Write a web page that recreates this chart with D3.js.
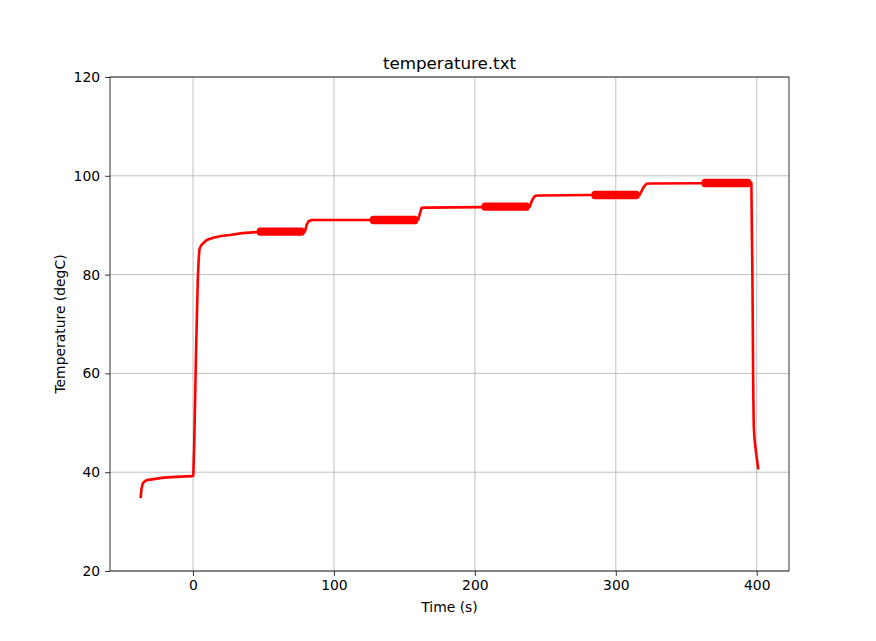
<!DOCTYPE html>
<html>
<head>
<meta charset="utf-8">
<script src="https://cdn.jsdelivr.net/npm/d3@7"></script>
<style>
  html, body { margin: 0; padding: 0; background: #fff; }
  svg { display: block; font-family: "DejaVu Sans", sans-serif; }
</style>
</head>
<body>
<svg id="chart" width="876" height="641"></svg>
<script>
// ---- data ----
const timeS = [-37.1, -36.6, -35.7, -34.5, -32.8, -28, -21, -12, -1, 0.2, 0.8, 1.5, 2.2, 2.8, 3.4, 4.0, 4.6, 6, 9.7, 15, 20, 26.2, 35, 45.2,
  79.4, 80.6, 82, 84.2, 100, 125.5, 159.8, 161, 162.2, 165, 204.7, 239, 240.5, 242.5, 245, 282.7, 317, 319.5, 321.8, 325, 360.8, 396.2,
  396.5, 396.9, 397.2, 397.4, 397.6, 397.9, 398.5, 399.3, 400.2, 401];
const tempC = [35.0, 36.5, 37.7, 38.1, 38.4, 38.6, 38.9, 39.05, 39.2, 39.3, 45, 55, 65, 72, 79, 83, 85.2, 86, 87.0, 87.5, 87.8, 88.0, 88.4, 88.6,
  88.7, 90.0, 90.8, 91.05, 91.05, 91.05, 91.1, 92.4, 93.5, 93.55, 93.65, 93.75, 95.0, 95.9, 96.0, 96.1, 96.15, 97.6, 98.4, 98.45, 98.5, 98.6,
  90, 80.9, 70, 60.7, 55, 49.2, 46.5, 44.5, 42.5, 40.8];
// oscillating plateaus (start s, end s, centre degC)
const bandStart = [45.2, 125.5, 204.7, 282.7, 360.8];
const bandEnd   = [79.4, 159.8, 239.0, 317.0, 396.2];
const bandTemp  = [88.7, 91.05, 93.75, 96.1, 98.55];

const xTicks = [0, 100, 200, 300, 400];
const yTicks = [20, 40, 60, 80, 100, 120];
const titleText = "temperature.txt";
const xLabel = "Time (s)";
const yLabel = "Temperature (degC)";

// ---- layout ----
const W = 876, H = 641;
const mLeft = 110, mRight = 789, mTop = 77, mBottom = 571;
const svg = d3.select("#chart");

const x = d3.scaleLinear().domain([-58.9, 422.9]).range([mLeft, mRight]);
const y = d3.scaleLinear().domain([20, 120]).range([mBottom, mTop]);

// grid
const grid = svg.append("g");
grid.selectAll("line.gx").data(xTicks).join("line")
  .attr("x1", d => x(d)).attr("x2", d => x(d)).attr("y1", mTop).attr("y2", mBottom)
  .attr("stroke", "#b0b0b0").attr("stroke-width", 0.8);
grid.selectAll("line.gy").data(yTicks).join("line")
  .attr("x1", mLeft).attr("x2", mRight).attr("y1", d => y(d)).attr("y2", d => y(d))
  .attr("stroke", "#b0b0b0").attr("stroke-width", 0.8);

// data line
const pts = timeS.map((t, i) => [t, tempC[i]]);
svg.append("clipPath").attr("id", "clip").append("rect")
  .attr("x", mLeft).attr("y", mTop).attr("width", mRight - mLeft).attr("height", mBottom - mTop);
const plot = svg.append("g").attr("clip-path", "url(#clip)");
plot.append("path")
  .attr("d", d3.line().x(d => x(d[0])).y(d => y(d[1]))(pts))
  .attr("fill", "none").attr("stroke", "#ff0000").attr("stroke-width", 2.6)
  .attr("stroke-linejoin", "round").attr("stroke-linecap", "square");

const bandHalfDeg = 0.85;
plot.selectAll("rect.band").data(bandStart.map((s, i) => ({s, e: bandEnd[i], v: bandTemp[i]}))).join("rect")
  .attr("x", d => x(d.s)).attr("width", d => x(d.e) - x(d.s))
  .attr("y", d => y(d.v + bandHalfDeg)).attr("height", d => y(d.v - bandHalfDeg) - y(d.v + bandHalfDeg))
  .attr("rx", 3.5).attr("ry", 3.5)
  .attr("fill", "#ff0000");

// axes
const xAxis = d3.axisBottom(x).tickValues(xTicks).tickSize(4.9).tickPadding(4.5).tickFormat(d3.format("d"));
const yAxis = d3.axisLeft(y).tickValues(yTicks).tickSize(4.9).tickPadding(5).tickFormat(d3.format("d"));
const gx = svg.append("g").attr("transform", `translate(0,${mBottom})`).call(xAxis);
const gy = svg.append("g").attr("transform", `translate(${mLeft},0)`).call(yAxis);
[gx, gy].forEach(g => {
  g.select(".domain").remove();
  g.selectAll(".tick line").attr("stroke", "#000").attr("stroke-width", 0.8);
  g.selectAll(".tick text").attr("fill", "#000").style("font-size", "13.9px").style("font-family", "DejaVu Sans");
});

// spines
svg.append("rect").attr("x", mLeft).attr("y", mTop).attr("width", mRight - mLeft).attr("height", mBottom - mTop)
  .attr("fill", "none").attr("stroke", "#000").attr("stroke-width", 0.8);

// labels
svg.append("text").attr("x", (mLeft + mRight) / 2).attr("y", 69).attr("text-anchor", "middle")
  .style("font-size", "16.7px").text(titleText);
svg.append("text").attr("x", (mLeft + mRight) / 2).attr("y", 612).attr("text-anchor", "middle")
  .style("font-size", "13.9px").text(xLabel);
svg.append("text").attr("transform", `translate(65,${(mTop + mBottom) / 2}) rotate(-90)`).attr("text-anchor", "middle")
  .style("font-size", "13.9px").text(yLabel);
</script>
</body>
</html>
